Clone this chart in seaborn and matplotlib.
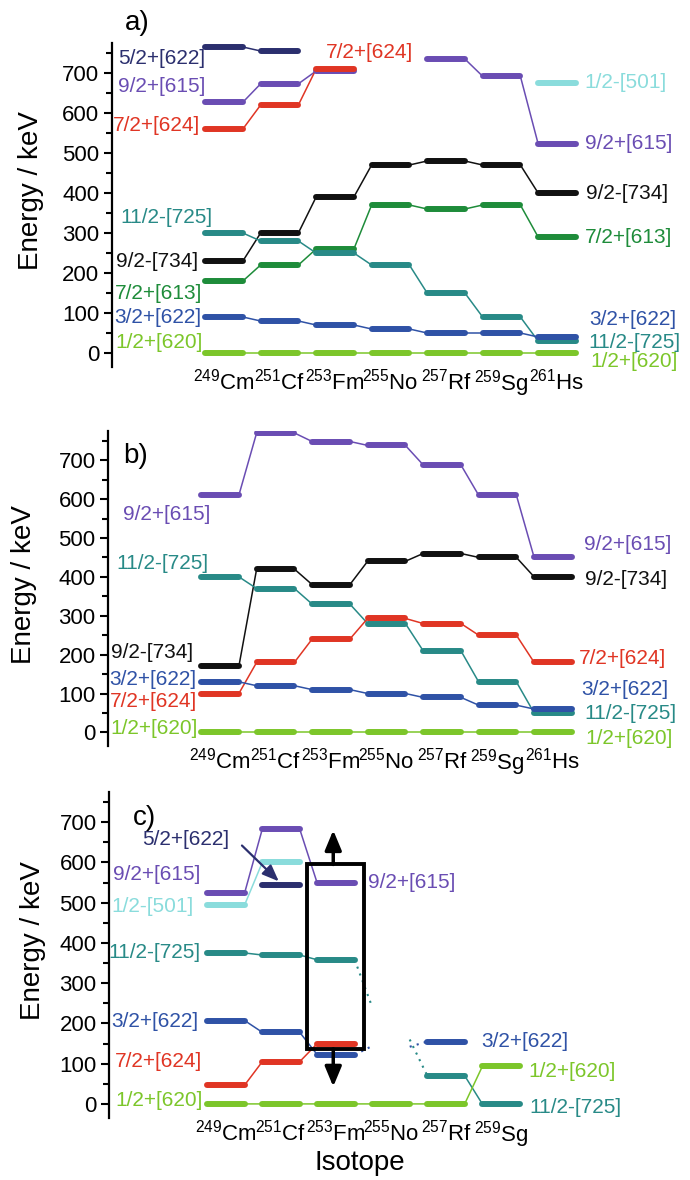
import numpy as np
import pandas as pd
import matplotlib.pyplot as plt
import seaborn as sns
from matplotlib.patches import Rectangle
from matplotlib.ticker import MultipleLocator

nan = np.nan

mass = [249, 251, 253, 255, 257, 259, 261]
elements = ['Cm', 'Cf', 'Fm', 'No', 'Rf', 'Sg', 'Hs']

colors = {
    '5/2+[622]': '#2b2f6e',
    '9/2+[615]': '#6a4db3',
    '7/2+[624]': '#e03524',
    '1/2-[501]': '#8adcdc',
    '9/2-[734]': '#111111',
    '7/2+[613]': '#1e8c3a',
    '11/2-[725]': '#288a87',
    '3/2+[622]': '#2f52a6',
    '1/2+[620]': '#7cc62a',
}

# panel a) level energies in keV (nan = no level)
a_52_622 = [765, 755, nan, nan, nan, nan, nan]
a_92_615 = [627, 673, 705, nan, 735, 692, 523]
a_72_624 = [560, 620, 710, nan, nan, nan, nan]
a_12_501 = [nan, nan, nan, nan, nan, nan, 675]
a_92_734 = [230, 300, 390, 470, 480, 470, 400]
a_72_613 = [180, 220, 260, 370, 360, 370, 290]
a_112_725 = [300, 280, 250, 220, 150, 90, 30]
a_32_622 = [90, 80, 70, 60, 50, 50, 40]
a_12_620 = [0, 0, 0, 0, 0, 0, 0]

# panel b)
b_92_615 = [610, 770, 748, 738, 688, 610, 450]
b_112_725 = [400, 370, 330, 280, 210, 130, 50]
b_92_734 = [170, 420, 380, 440, 460, 450, 400]
b_72_624 = [100, 180, 240, 293, 280, 250, 180]
b_32_622 = [130, 120, 110, 100, 90, 70, 60]
b_12_620 = [0, 0, 0, 0, 0, 0, 0]

# panel c) (no Hs)
c_92_615 = [525, 683, 548, nan, nan, nan]
c_12_501 = [495, 600, nan, nan, nan, nan]
c_52_622 = [nan, 543, nan, nan, nan, nan]
c_112_725 = [375, 370, 358, nan, 70, 0]
c_32_622 = [207, 178, 122, nan, 155, nan]
c_72_624 = [47, 105, 150, nan, nan, nan]
c_12_620 = [0, 0, 0, 0, 0, 93]
# dotted bridges across the missing No level: Fm end, towards No, from No, Rf start
c_bridge_725 = [358, 240, 160, 70]
c_bridge_622 = [122, 144, 142, 155]
c_box = [137, 595]
c_arrow_ends = [43, 680]
c_pointer = [642, 553]

a_levels = {'5/2+[622]': a_52_622, '9/2+[615]': a_92_615, '7/2+[624]': a_72_624,
            '1/2-[501]': a_12_501, '9/2-[734]': a_92_734, '7/2+[613]': a_72_613,
            '11/2-[725]': a_112_725, '3/2+[622]': a_32_622, '1/2+[620]': a_12_620}
b_levels = {'9/2+[615]': b_92_615, '9/2-[734]': b_92_734, '11/2-[725]': b_112_725,
            '7/2+[624]': b_72_624, '3/2+[622]': b_32_622, '1/2+[620]': b_12_620}
c_levels = {'9/2+[615]': c_92_615, '1/2-[501]': c_12_501, '5/2+[622]': c_52_622,
            '11/2-[725]': c_112_725, '3/2+[622]': c_32_622, '7/2+[624]': c_72_624,
            '1/2+[620]': c_12_620}

# label text, x (column units), y (keV)
a_labels = [('5/2+[622]', -1.91, 737), ('9/2+[615]', -1.91, 667), ('7/2+[624]', -2.0, 569),
            ('11/2-[725]', -1.87, 338), ('9/2-[734]', -1.95, 229), ('7/2+[613]', -1.96, 149),
            ('3/2+[622]', -1.98, 89), ('1/2+[620]', -1.96, 27),
            ('7/2+[624]', 1.84, 751), ('1/2-[501]', 6.49, 676), ('9/2+[615]', 6.5, 524),
            ('9/2-[734]', 6.52, 399), ('7/2+[613]', 6.5, 288), ('3/2+[622]', 6.59, 83),
            ('11/2-[725]', 6.56, 27), ('1/2+[620]', 6.61, -22)]
b_labels = [('9/2+[615]', -1.75, 559), ('11/2-[725]', -1.86, 435), ('9/2-[734]', -1.96, 205),
            ('3/2+[622]', -2.0, 135), ('7/2+[624]', -1.98, 80), ('1/2+[620]', -1.98, 11),
            ('9/2+[615]', 6.56, 482), ('9/2-[734]', 6.58, 392), ('7/2+[624]', 6.47, 191),
            ('3/2+[622]', 6.5, 110), ('11/2-[725]', 6.56, 48), ('1/2+[620]', 6.58, -15)]
c_labels = [('5/2+[622]', -1.53, 657), ('9/2+[615]', -2.05, 570), ('1/2-[501]', -2.09, 491),
            ('11/2-[725]', -2.13, 376), ('3/2+[622]', -2.09, 205), ('7/2+[624]', -2.02, 105),
            ('1/2+[620]', -2.02, 8),
            ('9/2+[615]', 2.58, 549), ('3/2+[622]', 4.64, 155), ('1/2+[620]', 5.49, 80),
            ('11/2-[725]', 5.51, -8)]

sns.set_style('ticks')
plt.rcParams['font.family'] = ['Liberation Sans', 'DejaVu Sans']
plt.rcParams['mathtext.fontset'] = 'custom'
plt.rcParams['mathtext.rm'] = 'Liberation Sans'
plt.rcParams['mathtext.default'] = 'regular'
for key in ['text.color', 'axes.labelcolor', 'xtick.color', 'ytick.color', 'axes.edgecolor']:
    plt.rcParams[key] = 'black'

W, H = 690, 1180
fig = plt.figure(figsize=(W / 100, H / 100), dpi=100)

HW = 0.34  # half width of a level bar


def draw_panel(geom, levels, labels, tag, tag_xy, ylab_xy):
    spine, c0, unit, top, bottom = geom
    ax = fig.add_axes([spine / W, 1 - bottom / H, (W - spine) / W, (bottom - top) / H])
    ncol = len(next(iter(levels.values())))

    rows = []
    seg = 0
    for state, vals in levels.items():
        seg += 1
        for i, v in enumerate(vals):
            if np.isnan(v):
                seg += 1
                continue
            rows.append((state, seg, i - HW, v))
            rows.append((state, seg, i + HW, v))
    df = pd.DataFrame(rows, columns=['state', 'seg', 'x', 'y'])

    sns.lineplot(data=df, x='x', y='y', hue='state', units='seg', estimator=None,
                 sort=False, palette=colors, lw=1.1, legend=False, ax=ax)
    for state, vals in levels.items():
        for i, v in enumerate(vals):
            if not np.isnan(v):
                ax.plot([i - HW, i + HW], [v, v], color=colors[state], lw=4.3,
                        solid_capstyle='round')

    for text, x, y in labels:
        ax.text(x, y, text, color=colors[text], fontsize=15, ha='left', va='center',
                clip_on=False)

    ax.text(tag_xy[0], tag_xy[1], tag, fontsize=20, ha='left', va='center', clip_on=False)

    ax.set_xlim((spine - c0) / unit, (W - c0) / unit)
    ax.set_ylim(-35, 775)
    ax.set_yticks(range(0, 701, 100))
    ax.yaxis.set_minor_locator(MultipleLocator(50))
    ax.set_xticks(range(ncol))
    ax.set_xticklabels([f'$^{{{m}}}$' + e for m, e in zip(mass[:ncol], elements[:ncol])])
    ax.tick_params(axis='y', which='major', length=6, width=1.5, labelsize=16, pad=3,
                   direction='out')
    ax.tick_params(axis='y', which='minor', length=4, width=1.5, direction='out')
    ax.tick_params(axis='x', length=0, labelsize=16, pad=1)
    ax.spines['left'].set_linewidth(1.6)
    sns.despine(ax=ax, bottom=True)
    ax.set_xlabel('')
    ax.set_ylabel('Energy / keV', fontsize=20)
    ax.yaxis.set_label_coords(*ylab_xy)
    ax.patch.set_alpha(0)
    return ax


ax_a = draw_panel((112, 224, 55.5, 43, 367), a_levels, a_labels, 'a)', (-1.78, 825),
                  (-0.118, 0.546))
ax_b = draw_panel((108, 220, 55.5, 431, 746), b_levels, b_labels, 'b)', (-1.75, 710),
                  (-0.122, 0.514))
ax_c = draw_panel((109, 226, 55.0, 792, 1118), c_levels, c_labels, 'c)', (-1.69, 711),
                  (-0.108, 0.544))

# dotted bridges through the missing 255No level
for state, br in [('11/2-[725]', c_bridge_725), ('3/2+[622]', c_bridge_622)]:
    ax_c.plot([2 + HW, 3 - HW], br[:2], color=colors[state], lw=1.5, ls=(0, (1, 2.5)))
    ax_c.plot([3 + HW, 4 - HW], br[2:], color=colors[state], lw=1.5, ls=(0, (1, 2.5)))

# box and arrows on 253Fm
ax_c.add_patch(Rectangle((1.48, c_box[0]), 1.03, c_box[1] - c_box[0], fill=False,
                         lw=2.8, ec='black', zorder=5))
arrow_head = '-|>,head_length=0.6,head_width=0.25'
ax_c.annotate('', xy=(1.95, c_arrow_ends[1]), xytext=(1.95, c_box[1]),
              arrowprops=dict(arrowstyle=arrow_head, lw=2.5, color='black',
                              mutation_scale=20, shrinkA=0, shrinkB=0), zorder=6)
ax_c.annotate('', xy=(1.95, c_arrow_ends[0]), xytext=(1.95, c_box[0]),
              arrowprops=dict(arrowstyle=arrow_head, lw=2.5, color='black',
                              mutation_scale=20, shrinkA=0, shrinkB=0), zorder=6)
ax_c.annotate('', xy=(0.96, c_pointer[1]), xytext=(0.29, c_pointer[0]),
              arrowprops=dict(arrowstyle='-|>,head_length=0.5,head_width=0.2', lw=1.6,
                              color=colors['5/2+[622]'], mutation_scale=20,
                              shrinkA=0, shrinkB=0))

ax_c.set_xlabel('Isotope', fontsize=20)
ax_c.xaxis.set_label_coords(0.432, -0.098)

fig.savefig('out.png', dpi=100)
